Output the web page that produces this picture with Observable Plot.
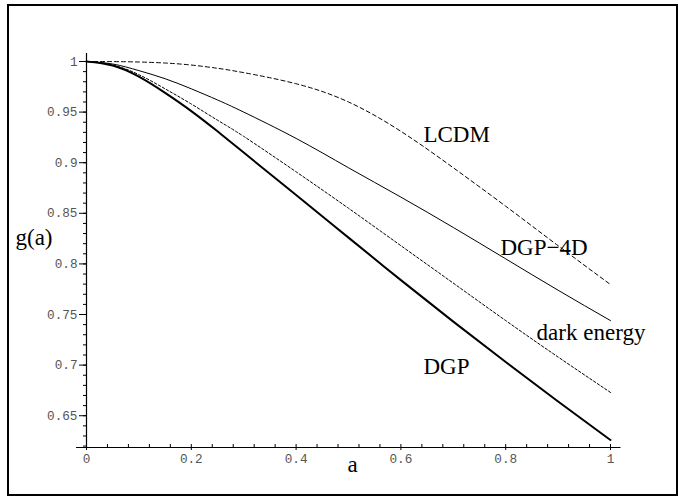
<!DOCTYPE html>
<html>
<head>
<meta charset="utf-8">
<script src="https://cdn.jsdelivr.net/npm/d3@7"></script>
<script src="https://cdn.jsdelivr.net/npm/@observablehq/plot@0.6"></script>
<style>
  html, body { margin: 0; padding: 0; background: #fff; }
  #wrap { position: relative; width: 678px; height: 498px; overflow: hidden; }
  #border { position: absolute; left: 7px; top: 4px; width: 667px; height: 488px; border: 2px solid #000; pointer-events: none; }
</style>
</head>
<body>
<div id="wrap"><div id="chart"></div><div id="border"></div></div>
<script>
// ---- data ----
const aValues   = [0, 0.05, 0.1, 0.15, 0.2, 0.25, 0.3, 0.4, 0.5, 0.6, 0.7, 0.8, 0.9, 1];
const gLCDM     = [1, 0.9999, 0.9995, 0.9985, 0.9965, 0.9933, 0.989, 0.978, 0.960, 0.931, 0.895, 0.857, 0.818, 0.7796];
const gDGP4D    = [1, 0.9975, 0.991, 0.983, 0.973, 0.962, 0.950, 0.924, 0.895, 0.866, 0.836, 0.805, 0.774, 0.744];
const gDarkEn   = [1, 0.9965, 0.987, 0.973, 0.958, 0.942, 0.926, 0.891, 0.855, 0.818, 0.781, 0.744, 0.708, 0.673];
const gDGP      = [1, 0.996, 0.985, 0.969, 0.951, 0.931, 0.910, 0.868, 0.826, 0.784, 0.743, 0.703, 0.664, 0.626];

const seriesNames = ["LCDM", "DGP\u22124D", "dark energy", "DGP"];
const labelA      = [0.643, 0.790, 0.859, 0.643];
const labelG      = [0.9276, 0.8156, 0.7319, 0.699];

const yMajorTicks = [0.65, 0.7, 0.75, 0.8, 0.85, 0.9, 0.95, 1];
const yMinorTicks = d3.range(0.62, 1.0001, 0.01).map(v => +v.toFixed(2));
const xMajorTicks = [0, 0.2, 0.4, 0.6, 0.8, 1];
const xMinorTicks = d3.range(0, 1.0001, 0.04).map(v => +v.toFixed(2));

const yDomain = [0.6186, 1];
const xAxisExtent = [-0.019, 1.02];
const yAxisTop = 1.008;

const table = (gs) => aValues.map((a, i) => ({a, g: gs[i]}));

const styles = [
  {data: table(gLCDM),   strokeWidth: 1,   dash: "4,3"},
  {data: table(gDGP4D),  strokeWidth: 1,   dash: null},
  {data: table(gDarkEn), strokeWidth: 1,   dash: "2.5,2"},
  {data: table(gDGP),    strokeWidth: 2,   dash: null}
];

const labels = seriesNames.map((name, i) => ({name, a: labelA[i], g: labelG[i]}));

const tickFont = {fontFamily: "Liberation Mono, DejaVu Sans Mono, monospace", fontSize: 12.7, fill: "#555"};
const serif = "Liberation Serif, Times New Roman, serif";

const plot = Plot.plot({
  width: 678,
  height: 498,
  marginLeft: 86,
  marginRight: 68,
  marginTop: 61,
  marginBottom: 51,
  style: {background: "white", overflow: "visible"},
  x: {domain: [0, 1]},
  y: {domain: yDomain},
  marks: [
    // axis lines
    Plot.ruleX([0], {y1: yDomain[0], y2: yAxisTop, stroke: "#000", strokeWidth: 1.2}),
    Plot.ruleY([yDomain[0]], {x1: xAxisExtent[0], x2: xAxisExtent[1], stroke: "#000", strokeWidth: 1.2}),
    // y ticks
    Plot.axisY({ticks: yMinorTicks, tickSize: 3, tickFormat: () => "", stroke: "#000", label: null}),
    Plot.axisY({ticks: yMajorTicks, tickSize: 7, tickPadding: 2, tickFormat: d => String(+d.toFixed(2)), stroke: "#000", ...tickFont, label: null}),
    // x ticks
    Plot.axisX({ticks: xMinorTicks, tickSize: -3, tickFormat: () => "", stroke: "#000", label: null}),
    Plot.axisX({ticks: xMajorTicks, tickSize: 3, tickPadding: 3, tickFormat: d => String(+d.toFixed(1)), stroke: "#000", ...tickFont, label: null}),
    // curves
    ...styles.map(s => Plot.line(s.data, {x: "a", y: "g", curve: "natural", stroke: "#000", strokeWidth: s.strokeWidth, strokeDasharray: s.dash})),
    // curve labels
    Plot.text(labels, {x: "a", y: "g", text: "name", textAnchor: "start", lineAnchor: "middle", fontFamily: serif, fontSize: 23, fill: "#000"}),
    // axis titles
    Plot.text(["g(a)"], {frameAnchor: "left", dx: -71, dy: -16.4, textAnchor: "start", lineAnchor: "middle", fontFamily: serif, fontSize: 23, fill: "#000"}),
    Plot.text(["a"], {frameAnchor: "bottom", dx: 4, dy: 17.6, textAnchor: "middle", lineAnchor: "middle", fontFamily: serif, fontSize: 23, fill: "#000"})
  ]
});
document.getElementById("chart").appendChild(plot);
</script>
</body>
</html>
